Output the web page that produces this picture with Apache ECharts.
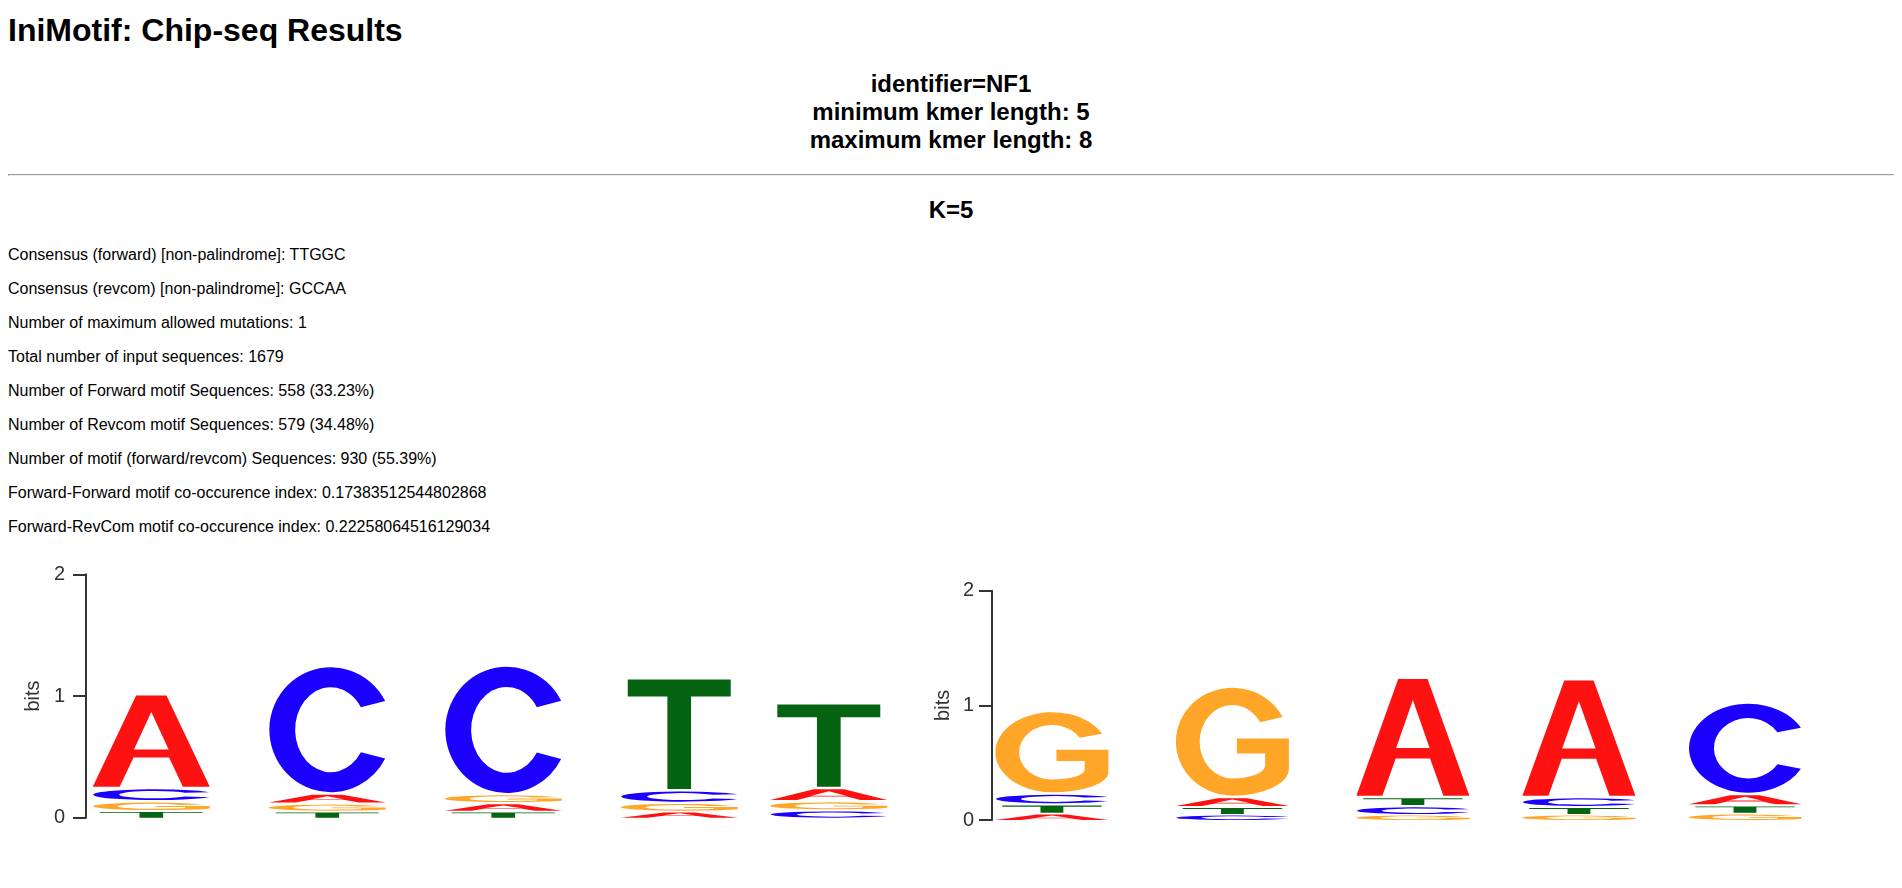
<!DOCTYPE html>
<html>
<head>
<meta charset="utf-8">
<title>IniMotif: Chip-seq Results</title>
<script src="https://cdn.jsdelivr.net/npm/echarts@6/dist/echarts.min.js"></script>
<style>
  html { overflow: hidden; }
  body { margin: 0 8px 8px; font-family: "Liberation Sans", Arial, sans-serif; color: #000; background: #fff; }
  h1 { font-size: 32px; margin: 12px 0 21.44px; }
  h2 { font-size: 24px; text-align: center; margin: 19.92px 0; }
  h2.kmer { margin-bottom: 21.4px; }
  p { font-size: 16px; margin: 16px 0; }
  #logos { position: absolute; left: 0; top: 540px; width: 1902px; height: 340px; }
</style>
</head>
<body>
<h1>IniMotif: Chip-seq Results</h1>
<h2>identifier=NF1<br>minimum kmer length: 5<br>maximum kmer length: 8</h2>
<hr>
<h2 class="kmer">K=5</h2>
<p>Consensus (forward) [non-palindrome]: TTGGC</p>
<p>Consensus (revcom) [non-palindrome]: GCCAA</p>
<p>Number of maximum allowed mutations: 1</p>
<p>Total number of input sequences: 1679</p>
<p>Number of Forward motif Sequences: 558 (33.23%)</p>
<p>Number of Revcom motif Sequences: 579 (34.48%)</p>
<p>Number of motif (forward/revcom) Sequences: 930 (55.39%)</p>
<p>Forward-Forward motif co-occurence index: 0.17383512544802868</p>
<p>Forward-RevCom motif co-occurence index: 0.22258064516129034</p>
<div id="logos"></div>
<script>
// letters in the order of the value arrays below
const letters = ['A', 'C', 'G', 'T']

// left logo, information (bits) per letter at each position
const fwdPositions = [1, 2, 3, 4, 4.85]
const fwdA = [0.77, 0.085, 0.07, 0.058, 0.109]
const fwdC = [0.109, 1.048, 1.058, 0.104, 0.069]
const fwdG = [0.082, 0.066, 0.075, 0.074, 0.076]
const fwdT = [0.063, 0.058, 0.058, 0.92, 0.696]

// right logo
const revPositions = [1, 2, 3, 3.92, 4.84]
const revA = [0.064, 0.09, 1.041, 1.027, 0.101]
const revC = [0.096, 0.052, 0.078, 0.09, 0.797]
const revG = [0.72, 0.963, 0.052, 0.052, 0.064]
const revT = [0.082, 0.07, 0.081, 0.07, 0.073]

const bitsTicks = [0, 1, 2]

const fontFamily = '"Liberation Sans", Arial, sans-serif'
const glyphColor = ['#fe1111', '#1c00fe', '#ffa628', '#056411']
const glyphScale = [1, 0.99, 1, 0.88]
// glyph outlines in a 100x100 box, stretched to each slot
const glyphPath = [
  'M0 100 L37 0 L63 0 L100 100 L77 100 L65.2 68 L34.8 68 L23 100 Z M50 18 L35.2 59 L64.8 59 Z',
  'M94.4 27 A50 50 0 1 0 94.4 73 L74.6 68 A29 34 0 1 1 74.6 32 Z',
  'M94.4 27 A50 50 0 1 0 50 100 A50 25 0 0 0 100 75 L100 47 L54 47 L54 61 L79 61 L79 72 A29 12 0 0 1 50 84 A29 34 0 1 1 74.6 32 Z',
  'M0 0 L100 0 L100 15.5 L61.5 15.5 L61.5 100 L38.5 100 L38.5 15.5 L0 15.5 Z'
]

// stack the letters of each column, smallest at the bottom
function stackColumns(positions, values) {
  const items = []
  positions.forEach((pos, i) => {
    const col = letters.map((l, li) => ({ li, h: values[li][i] }))
    col.sort((a, b) => a.h - b.h)
    let base = 0
    col.forEach(c => {
      items.push([pos, base, base + c.h, c.li])
      base += c.h
    })
  })
  return items
}

function glyphRenderer(boxWidth) {
  return function (params, api) {
    const li = api.value(3)
    const p0 = api.coord([api.value(0), api.value(1)])
    const p1 = api.coord([api.value(0), api.value(2)])
    const slot = p0[1] - p1[1]
    const gap = Math.min(2.5, slot * 0.25)
    const w = boxWidth * glyphScale[li]
    return {
      type: 'path',
      shape: {
        pathData: glyphPath[li],
        x: p0[0] - w / 2,
        y: p1[1] + gap,
        width: w,
        height: slot - gap,
        layout: 'cover'
      },
      style: { fill: glyphColor[li] }
    }
  }
}

function bitsAxis(gridIndex, fontSize, labelMargin, nameGap) {
  return {
    type: 'value',
    gridIndex,
    min: bitsTicks[0],
    max: bitsTicks[bitsTicks.length - 1],
    interval: 1,
    name: 'bits',
    nameLocation: 'middle',
    nameGap,
    nameTextStyle: { fontSize, color: '#333', fontFamily },
    axisLine: { show: true, lineStyle: { color: '#333', width: 2 } },
    axisTick: { show: true, length: 13, lineStyle: { color: '#333', width: 2 } },
    axisLabel: { fontSize, color: '#333', margin: labelMargin, fontFamily },
    splitLine: { show: false }
  }
}

const chart = echarts.init(document.getElementById('logos'))

const option = {
  animation: false,
  grid: [
    { left: 86, top: 34.3, width: 822, height: 243.4, outerBoundsMode: 'none' },
    { left: 992, top: 50.7, width: 836, height: 229.3, outerBoundsMode: 'none' }
  ],
  xAxis: [
    { type: 'value', gridIndex: 0, min: 0.629, max: 5.3, show: false },
    { type: 'value', gridIndex: 1, min: 0.668, max: 5.3, show: false }
  ],
  yAxis: [
    bitsAxis(0, 20, 21, 43),
    bitsAxis(1, 20, 18, 39)
  ],
  series: [
    {
      type: 'custom',
      xAxisIndex: 0,
      yAxisIndex: 0,
      silent: true,
      encode: { x: 0, y: [1, 2] },
      renderItem: glyphRenderer(117),
      data: stackColumns(fwdPositions, [fwdA, fwdC, fwdG, fwdT])
    },
    {
      type: 'custom',
      xAxisIndex: 1,
      yAxisIndex: 1,
      silent: true,
      encode: { x: 0, y: [1, 2] },
      renderItem: glyphRenderer(113),
      data: stackColumns(revPositions, [revA, revC, revG, revT])
    }
  ]
}

chart.setOption(option)
</script>
</body>
</html>
